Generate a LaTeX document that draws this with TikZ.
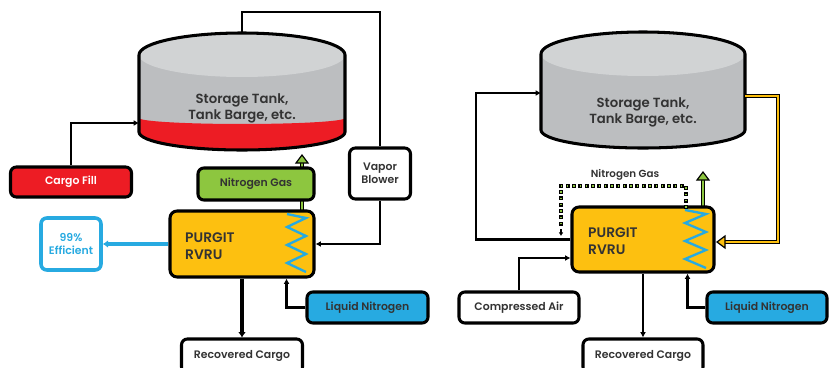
\documentclass[tikz,border=0pt]{standalone}
\usepackage{fontspec}
\setmainfont{Poppins}[BoldFont={Poppins SemiBold}]
\usetikzlibrary{arrows.meta,calc,decorations.markings}
\definecolor{fillred}{HTML}{ED1C24}
\definecolor{gasgreen}{HTML}{8DC63F}
\definecolor{unityellow}{HTML}{FDC010}
\definecolor{coolblue}{HTML}{27AAE1}
\definecolor{tankbody}{HTML}{BCBEC0}
\definecolor{tanktop}{HTML}{D1D3D4}
\definecolor{darktext}{HTML}{333333}
\def\px{0.03cm}
\newcommand\TankShape[4]{% centre x, top y, bottom y, x radius
  \fill[tankbody] (#1-#4,#2) -- (#1-#4,#3)
    arc[start angle=180,end angle=0,x radius=#4,y radius=18]
    -- (#1+#4,#2) arc[start angle=0,end angle=-180,x radius=#4,y radius=22];
}
\newcommand\TankOutline[4]{%
  \draw[line width=2.6pt] (#1-#4,#2) -- (#1-#4,#3)
    arc[start angle=180,end angle=0,x radius=#4,y radius=18]
    -- (#1+#4,#2) arc[start angle=0,end angle=-180,x radius=#4,y radius=22];
}
\newcommand\PipeUp[3]{% start, tip, colour
  \draw[line width=1pt,double=#3,double distance=2pt] (#1) -- ($(#2)+(0,8)$);
  \filldraw[fill=#3,line width=1pt,line join=miter] (#2) -- ++(-6,8) -- ++(12,0) -- cycle;
}
\tikzset{%
  >={Latex[length=4.5pt,width=5pt]},
  box/.style={draw=black,line width=2.6pt,rounded corners=5pt,fill=white,
    text=darktext,font=\fontsize{9.3}{11.5}\selectfont\bfseries,align=center,
    inner sep=0pt},
  unit/.style={box,fill=unityellow,rounded corners=6pt},
  unitlabel/.style={anchor=west,align=left,text=darktext,inner sep=0pt,
    font=\fontsize{11.8}{14.5}\selectfont\bfseries},
  tanklabel/.style={align=center,text=darktext,inner sep=0pt,
    font=\fontsize{11.3}{13.7}\selectfont\bfseries},
  flow/.style={line width=2.3pt},
  coil/.style={coolblue,line width=2pt,line join=miter},
  gasdot/.style={draw=black,fill=gasgreen,line width=0.9pt,minimum size=2.3pt,
    inner sep=0pt,rectangle},
}

\begin{document}
\begin{tikzpicture}[x=\px,y=-\px]

\useasboundingbox (0,0) rectangle (836,368);

%% left: storage tank with cargo fill

\TankShape{242}{55}{132}{103}
\fill[fillred] (139,118) arc[start angle=180,end angle=0,x radius=103,y radius=6]
  -- (345,132) arc[start angle=0,end angle=180,x radius=103,y radius=18] -- cycle;
\fill[tanktop] (242,55) ellipse[x radius=103,y radius=22];
\TankOutline{242}{55}{132}{103}
\node[tanklabel] (tankL) at (242,108) {Storage Tank,\\Tank Barge, etc.};
\coordinate (tankLtop) at (242,34);
\coordinate (tankLin) at (139,123);
\coordinate (ventL) at (380,12);

%% left: boxes

\PipeUp{302,212}{302,155}{gasgreen}
\node[box,fill=fillred,text=white,minimum width=121*\px,minimum height=30*\px]
  (cargo) at (71,182) {Cargo Fill};
\node[box,fill=gasgreen,minimum width=116*\px,minimum height=32*\px]
  (nitroL) at (256,184) {Nitrogen Gas};
\node[box,minimum width=61*\px,minimum height=51*\px] (blower) at (380,173.5)
  {Vapor\\Blower};
\node[unit,minimum width=144*\px,minimum height=66*\px] (purL) at (242,244) {};
\node[unitlabel] (purLtxt) at (185,246.5) {PURGIT\\RVRU};
\node[box,draw=coolblue,line width=3pt,text=coolblue,minimum width=60*\px,
  minimum height=52*\px] (effic) at (71,244) {99\%\\Efficient};
\node[box,minimum width=121*\px,minimum height=34*\px] (recL) at (242,356)
  {Recovered Cargo};
\node[box,fill=coolblue,minimum width=121*\px,minimum height=31*\px]
  (liqL) at (367.5,307.5) {Liquid Nitrogen};

\draw[coil] (287,214) \foreach \y in {218,236,254} { -- (306,\y) -- (287,\y+9) }
  -- (306,272);

%% left: connectors

\draw[flow] (tankLtop) |- (ventL) -- (blower.north);
\draw[flow,->] (blower.south) |- (purL.east);
\draw[flow,->] (cargo.north) |- (tankLin);
\draw[coolblue,line width=3pt,-{Latex[length=4.5pt,width=6.5pt]}] (purL.west) -- (effic.east);
\draw[line width=3pt,-{Latex[length=4.5pt,width=6.5pt]}] (purL.south) -- (recL.north);
\draw[flow,->] (liqL.west) -| ($(purL.south east)+(-29,0)$);

%% right: storage tank

\TankShape{643}{54}{130}{102}
\fill[tanktop] (643,54) ellipse[x radius=102,y radius=22];
\TankOutline{643}{54}{130}{102}
\node[tanklabel] (tankR) at (643,112) {Storage Tank,\\Tank Barge, etc.};
\coordinate (tankRin) at (541,93);
\coordinate (tankRout) at (745,96);
\coordinate (retR) at (476,93);
\coordinate (bendR) at (778,96);

%% right: boxes

\PipeUp{703,208}{703,172}{gasgreen}
\node[unit,minimum width=142*\px,minimum height=65*\px] (purR) at (643,239.5) {};
\node[unitlabel] (purRtxt) at (588,241) {PURGIT\\RVRU};
\node[box,minimum width=120*\px,minimum height=31*\px] (airR) at (519,307.5)
  {Compressed Air};
\node[box,fill=coolblue,minimum width=120*\px,minimum height=31*\px]
  (liqR) at (767,307.5) {Liquid Nitrogen};
\node[box,minimum width=120*\px,minimum height=34*\px] (recR) at (643,356)
  {Recovered Cargo};
\node[text=darktext,inner sep=0pt,font=\fontsize{8.8}{11}\selectfont\bfseries]
  (gasR) at (625,174.5) {Nitrogen Gas};

\draw[coil] (685,210) \foreach \y in {214,232,250} { -- (706,\y) -- (685,\y+9) }
  -- (706,268);

%% right: connectors

\draw[flow,->] (purR.west) -| (retR) -- (tankRin);
\draw[line width=1pt,double=unityellow,double distance=2pt]
  (tankRout) -- (bendR) |- ($(purR.east)+(9,2.5)$);
\filldraw[fill=unityellow,line width=1pt,line join=miter]
  ($(purR.east)+(1.5,2.5)$) -- ++(8,-6) -- ++(0,12) -- cycle;
\draw[flow,->] (airR.north) |- ($(purR.west)+(0,18.5)$);
\draw[flow,->] (liqR.west) -| ($(purR.south east)+(-28,0)$);
\draw[flow,->] (purR.south) -- (recR.north);
\coordinate (dotA) at (686,207);
\coordinate (dotB) at (561,186);
\coordinate (dotC) at (561,229);
\path[postaction={decorate},decoration={markings,
    mark=between positions 0 and 1 step 0.19cm with {\node[gasdot] {};}}]
  (dotA) |- (dotB) -- (dotC);
\draw[line width=1pt,-{Latex[length=3pt,width=4pt]}] (dotC) -- ++(0,7);

\end{tikzpicture}
\end{document}
